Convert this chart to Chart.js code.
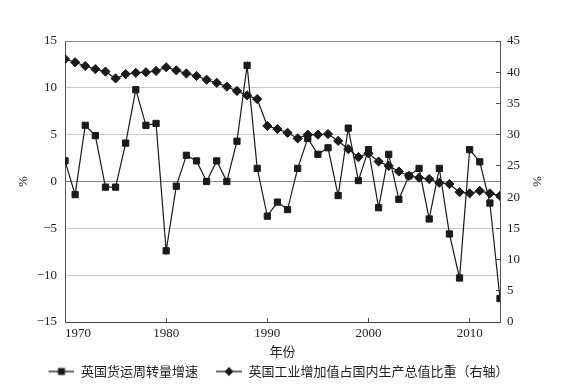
<!DOCTYPE html>
<html>
<head>
<meta charset="utf-8">
<script src="https://cdn.jsdelivr.net/npm/chart.js@4/dist/chart.umd.min.js"></script>
<style>
  html, body { margin: 0; padding: 0; background: #fff; }
  canvas { display: block; }
</style>
</head>
<body>
<canvas id="chart" width="575" height="386"></canvas>
<script>
// data
const years = [
  1970, 1971, 1972, 1973, 1974, 1975, 1976, 1977, 1978, 1979,
  1980, 1981, 1982, 1983, 1984, 1985, 1986, 1987, 1988, 1989,
  1990, 1991, 1992, 1993, 1994, 1995, 1996, 1997, 1998, 1999,
  2000, 2001, 2002, 2003, 2004, 2005, 2006, 2007, 2008, 2009,
  2010, 2011, 2012, 2013
];
// 英国货运周转量增速 (%), left axis
const freightGrowth = [
  2.2, -1.4, 6.0, 4.9, -0.6, -0.6, 4.1, 9.8, 6.0, 6.2,
  -7.4, -0.5, 2.8, 2.2, 0.0, 2.2, 0.0, 4.3, 12.4, 1.4,
  -3.7, -2.2, -3.0, 1.4, 4.6, 2.9, 3.6, -1.5, 5.7, 0.1,
  3.4, -2.8, 2.9, -1.9, 0.6, 1.4, -4.0, 1.4, -5.6, -10.3,
  3.4, 2.1, -2.3, -12.5
];
// 英国工业增加值占国内生产总值比重 (%), right axis
const industryShare = [
  42.1, 41.6, 41.0, 40.5, 40.1, 39.0, 39.7, 39.9, 40.0, 40.2,
  40.8, 40.3, 39.8, 39.4, 38.8, 38.3, 37.7, 37.0, 36.3, 35.7,
  31.4, 30.9, 30.3, 29.4, 30.0, 30.0, 30.1, 29.0, 27.7, 26.4,
  27.0, 25.7, 25.0, 24.1, 23.4, 23.1, 22.9, 22.3, 22.1, 20.8,
  20.6, 21.0, 20.6, 20.2
];
const seriesNames = ['英国货运周转量增速', '英国工业增加值占国内生产总值比重（右轴）'];
const xTicks = [1970, 1980, 1990, 2000, 2010, 2013];
const xTickLabels = ['1970', '1980', '1990', '2000', '2010', ''];
const xTitle = '年份';
const leftTitle = '%';
const rightTitle = '%';

const INK = '#1a1a1a';
const SERIF = '"Liberation Serif", "Times New Roman", serif';
const CJK = '"Noto Sans CJK SC", "Noto Sans", sans-serif';

// legend icon: a short line with the marker in the middle
function legendIcon(style) {
  const c = document.createElement('canvas');
  c.width = 36;
  c.height = 14;
  const g = c.getContext('2d');
  g.strokeStyle = INK;
  g.fillStyle = INK;
  g.lineWidth = 1.3;
  g.beginPath();
  g.moveTo(10, 7);
  g.lineTo(36, 7);
  g.stroke();
  g.beginPath();
  if (style === 'rect') {
    g.rect(19.5, 3.5, 7, 7);
  } else {
    g.moveTo(23, 2.5);
    g.lineTo(27.5, 7);
    g.lineTo(23, 11.5);
    g.lineTo(18.5, 7);
    g.closePath();
  }
  g.fill();
  return c;
}
const icons = [legendIcon('rect'), legendIcon('rectRot')];

const toPoints = (vals) => vals.map((v, i) => ({ x: years[i], y: v }));
const minus = (v) => (v < 0 ? '\u2212' + Math.abs(v) : String(v));

new Chart(document.getElementById('chart'), {
  type: 'line',
  data: {
    datasets: [
      {
        label: seriesNames[0],
        data: toPoints(freightGrowth),
        yAxisID: 'y',
        borderColor: INK,
        backgroundColor: INK,
        borderWidth: 1.2,
        pointStyle: 'rect',
        pointRadius: 4.4,
        pointBorderWidth: 1,
        tension: 0
      },
      {
        label: seriesNames[1],
        data: toPoints(industryShare),
        yAxisID: 'y1',
        borderColor: INK,
        backgroundColor: INK,
        borderWidth: 1.2,
        pointStyle: 'rectRot',
        pointRadius: 4.6,
        pointBorderWidth: 1,
        tension: 0
      }
    ]
  },
  options: {
    responsive: false,
    animation: false,
    devicePixelRatio: 1,
    layout: { padding: { top: 41, right: 28, bottom: -2, left: 0 } },
    plugins: {
      tooltip: { enabled: false },
      legend: {
        position: 'bottom',
        align: 'center',
        labels: {
          usePointStyle: true,
          pointStyleWidth: 36,
          padding: 8,
          color: '#222',
          font: { family: CJK, size: 13 },
          generateLabels(chart) {
            const items = Chart.defaults.plugins.legend.labels.generateLabels(chart);
            items.forEach((it, i) => { it.pointStyle = icons[i]; });
            return items;
          }
        }
      }
    },
    scales: {
      x: {
        type: 'linear',
        min: 1970,
        max: 2013,
        afterBuildTicks(scale) {
          scale.ticks = xTicks.map((v) => ({ value: v }));
        },
        afterFit(scale) { scale.height = 35; },
        ticks: {
          autoSkip: false,
          maxRotation: 0,
          align: 'inner',
          padding: 8,
          color: '#222',
          font: { family: SERIF, size: 13 },
          callback: (v, i) => xTickLabels[i]
        },
        grid: {
          drawOnChartArea: false,
          drawTicks: true,
          tickLength: -4,
          color: '#555'
        },
        border: { display: true, color: '#444', width: 1 },
        title: {
          display: true,
          text: xTitle,
          color: '#222',
          font: { family: CJK, size: 13, lineHeight: 1 },
          padding: { top: 0, bottom: -1 }
        }
      },
      y: {
        position: 'left',
        min: -15,
        max: 15,
        afterFit(scale) { scale.width = 65; },
        ticks: {
          stepSize: 5,
          padding: 8,
          color: '#222',
          font: { family: SERIF, size: 13 },
          callback: (v) => minus(v)
        },
        grid: {
          drawTicks: false,
          color: (ctx) => (ctx.tick && (ctx.tick.value === 0 || ctx.tick.value === 15) ? '#8a8a8a' : '#c8c8c8'),
          lineWidth: 1
        },
        border: { display: true, color: '#555', width: 1 },
        title: {
          display: true,
          text: leftTitle,
          color: '#222',
          font: { family: SERIF, size: 13, lineHeight: 1 },
          padding: { top: 17, bottom: 0 }
        }
      },
      y1: {
        position: 'right',
        min: 0,
        max: 45,
        afterFit(scale) { scale.width = 47; },
        ticks: {
          stepSize: 5,
          padding: 11,
          color: '#222',
          font: { family: SERIF, size: 13 }
        },
        grid: {
          drawOnChartArea: false,
          drawTicks: true,
          tickLength: -4,
          color: '#555'
        },
        border: { display: true, color: '#555', width: 1 },
        title: {
          display: true,
          text: rightTitle,
          color: '#222',
          font: { family: SERIF, size: 13, lineHeight: 1 },
          padding: { top: 4, bottom: 0 }
        }
      }
    }
  }
});
</script>
</body>
</html>
